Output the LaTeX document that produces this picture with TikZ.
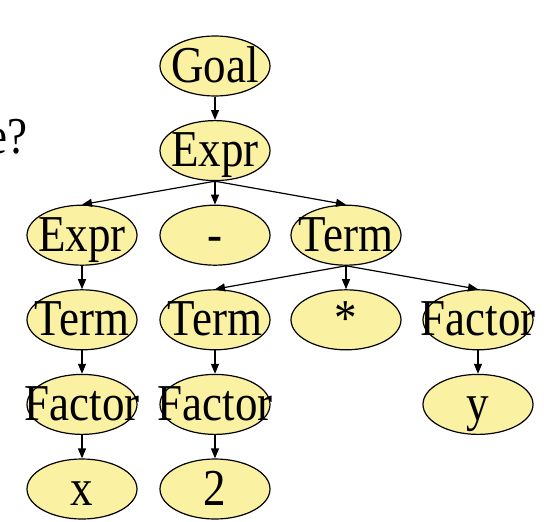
\documentclass[tikz,border=0pt]{standalone}
\usepackage{graphicx}
\usepackage{fontspec}
\setmainfont{Liberation Serif}
\usetikzlibrary{shapes.geometric,arrows.meta}
\definecolor{symfill}{RGB}{250,241,162}
\newcommand\symtext[1]{\makebox[0pt]{\scalebox{1}[1.15]{#1}}}
\tikzset{
  sym/.style={ellipse, draw, line width=1.2pt, fill=symfill,
    minimum width=110pt, minimum height=60pt, inner sep=0pt,
    text height=36pt, text depth=4pt, font=\fontsize{45}{50}\selectfont},
  link/.style={line width=1.2pt, -{Stealth[length=10pt,width=8pt,inset=0pt]}}
}
\begin{document}
\begin{tikzpicture}[x=1pt,y=-1pt]
\xdef\ca{82}
\xdef\cb{215}
\xdef\cc{346}
\xdef\cd{478}
\xdef\dy{84.6}
\useasboundingbox (0,0) rectangle (544,522);
\node[anchor=base east, font=\fontsize{45}{50}\selectfont] (ques) at (31,153) {\scalebox{1}[1.15]{e?}};
% rows of the parse tree
\node[sym] (goal) at (\cb,66) {\symtext{Goal}};
\node[sym] (expr) at (\cb,66+\dy) {\symtext{Expr}};
\node[sym] (exprl) at (\ca,66+2*\dy) {\symtext{Expr}};
\node[sym] (minus) at (\cb,66+2*\dy) {\symtext{-}};
\node[sym] (termr) at (\cc,66+2*\dy) {\symtext{Term}};
\node[sym] (terma) at (\ca,66+3*\dy) {\symtext{Term}};
\node[sym] (termb) at (\cb,66+3*\dy) {\symtext{Term}};
\node[sym] (times) at (\cc,66+3*\dy) {\symtext{*}};
\node[sym] (factc) at (\cd,66+3*\dy) {\symtext{Factor}};
\node[sym] (facta) at (\ca,66+4*\dy) {\symtext{Factor}};
\node[sym] (factb) at (\cb,66+4*\dy) {\symtext{Factor}};
\node[sym] (ylf) at (\cd,66+4*\dy) {\symtext{y}};
\node[sym] (xlf) at (\ca,66+5*\dy) {\symtext{x}};
\node[sym] (twolf) at (\cb,66+5*\dy) {\symtext{2}};
% edges
\draw[link] (goal.south)--(expr.north);
\draw[link] (expr.south)--(exprl.north);
\draw[link] (expr.south)--(minus.north);
\draw[link] (expr.south)--(termr.north);
\draw[link] (exprl.south)--(terma.north);
\draw[link] (termr.south)--(termb.north);
\draw[link] (termr.south)--(times.north);
\draw[link] (termr.south)--(factc.north);
\draw[link] (terma.south)--(facta.north);
\draw[link] (termb.south)--(factb.north);
\draw[link] (factc.south)--(ylf.north);
\draw[link] (facta.south)--(xlf.north);
\draw[link] (factb.south)--(twolf.north);
\end{tikzpicture}
\end{document}
